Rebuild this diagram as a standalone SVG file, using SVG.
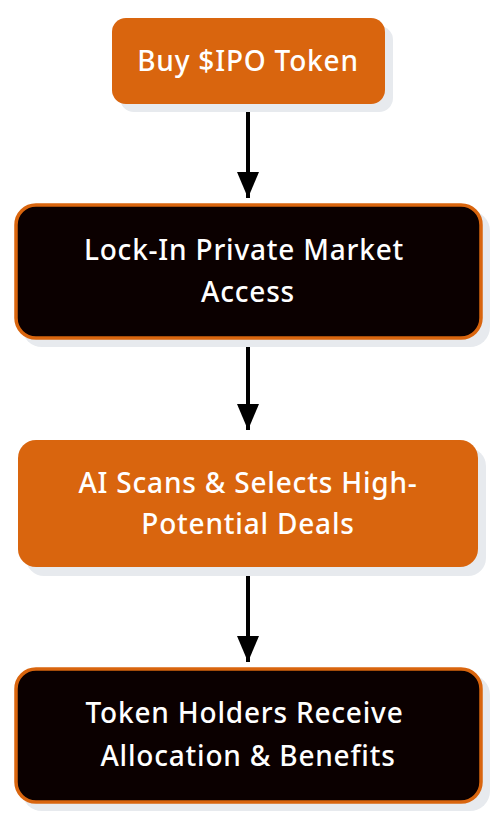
<svg xmlns="http://www.w3.org/2000/svg" width="496" height="818" viewBox="0 0 496 818">
<defs>
<style>
.sh{fill:#e7eaee}
.or{fill:#d9650e}
.bk{fill:#0b0000;stroke:#d9650e;stroke-width:3.5}
.t{font-family:"Noto Sans","Open Sans",sans-serif;font-size:28px;font-weight:500;letter-spacing:0.8px;fill:#ffffff;text-anchor:middle}
.ln{stroke:#000;stroke-width:4;fill:none}
</style>
<marker id="ah" viewBox="0 0 26 22" refX="26" refY="11" markerWidth="26" markerHeight="22" markerUnits="userSpaceOnUse" orient="auto">
<path d="M0,0 L26,11 L0,22 Z" fill="#000"/>
</marker>
</defs>
<rect width="496" height="818" fill="#fff"/>
<g id="connectors">
<line class="ln" x1="248" y1="104" x2="248" y2="198" marker-end="url(#ah)"/>
<line class="ln" x1="248" y1="340" x2="248" y2="430" marker-end="url(#ah)"/>
<line class="ln" x1="248" y1="568" x2="248" y2="662" marker-end="url(#ah)"/>
</g>
<g id="n1">
<rect class="sh" x="120" y="26" width="273" height="86" rx="14"/>
<rect class="or" x="112" y="18" width="273" height="86" rx="14"/>
<text class="t" x="248" y="71">Buy $IPO Token</text>
</g>
<g id="n2">
<rect class="sh" x="22" y="211" width="468" height="136" rx="20"/>
<rect class="bk" x="16" y="205" width="465" height="133" rx="20"/>
<text class="t" x="244" y="260">Lock-In Private Market</text>
<text class="t" x="248" y="302">Access</text>
</g>
<g id="n3">
<rect class="sh" x="26" y="448" width="460" height="128" rx="18"/>
<rect class="or" x="18" y="440" width="460" height="127" rx="18"/>
<text class="t" x="248" y="493">AI Scans &amp; Selects High-</text>
<text class="t" x="248" y="534">Potential Deals</text>
</g>
<g id="n4">
<rect class="sh" x="22" y="675" width="468" height="136" rx="20"/>
<rect class="bk" x="16" y="669" width="465" height="133" rx="20"/>
<text class="t" x="244.5" y="723">Token Holders Receive</text>
<text class="t" x="248" y="766">Allocation &amp; Benefits</text>
</g>
</svg>
